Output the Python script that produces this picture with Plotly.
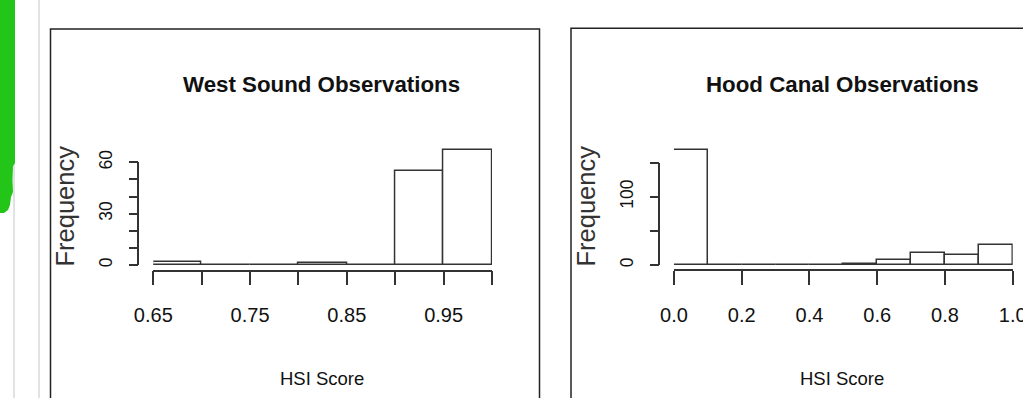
import plotly.graph_objects as go

# ---------------- data ----------------
ws_edges = [0.65, 0.70, 0.75, 0.80, 0.85, 0.90, 0.95, 1.00]
ws_counts = [2, 0, 0, 1, 0, 55, 67]
hc_edges = [0.0, 0.1, 0.2, 0.3, 0.4, 0.5, 0.6, 0.7, 0.8, 0.9, 1.0]
hc_counts = [169, 0, 0, 0, 0, 2, 8, 17, 14, 29]

ws_xticks = [0.65, 0.70, 0.75, 0.80, 0.85, 0.90, 0.95, 1.00]
ws_xlabels = ["0.65", "", "0.75", "", "0.85", "", "0.95", ""]
hc_xticks = [0.0, 0.2, 0.4, 0.6, 0.8, 1.0]
hc_xlabels = ["0.0", "0.2", "0.4", "0.6", "0.8", "1.0"]
ws_yticks = [0, 10, 20, 30, 40, 50, 60]
ws_ylabels = ["0", "", "", "30", "", "", "60"]
hc_yticks = [0, 50, 100, 150]
hc_ylabels = ["0", "", "100", ""]

titles = ["West Sound Observations", "Hood Canal Observations"]
xtitle = "HSI Score"
ytitle = "Frequency"

# ---------------- geometry helpers ----------------
W, H = 1023, 398
def px(x):
    return x / W
def py(y):
    return 1 - y / H

FONT = "Liberation Sans, Arial, Helvetica, sans-serif"
INK = "#111111"
LINE = "#333333"

def centers(edges):
    return [(a + b) / 2 for a, b in zip(edges[:-1], edges[1:])]
def widths(edges):
    return [b - a for a, b in zip(edges[:-1], edges[1:])]

fig = go.Figure()

bar_style = dict(marker=dict(color="white", line=dict(color=LINE, width=1.5)), showlegend=False, hoverinfo="skip")
fig.add_trace(go.Bar(x=centers(ws_edges), y=ws_counts, width=widths(ws_edges), xaxis="x", yaxis="y", **bar_style))
fig.add_trace(go.Bar(x=centers(hc_edges), y=hc_counts, width=widths(hc_edges), xaxis="x2", yaxis="y2", **bar_style))
fig.add_trace(go.Scatter(x=[None], y=[None], xaxis="x", yaxis="y3", showlegend=False, hoverinfo="skip"))
fig.add_trace(go.Scatter(x=[None], y=[None], xaxis="x2", yaxis="y4", showlegend=False, hoverinfo="skip"))

base = 265
top = 140
ws_scale = 102.7 / 60
hc_scale = 102.3 / 150

xax_common = dict(showline=True, linecolor=LINE, linewidth=1.5, ticks="outside", ticklen=14,
                  tickcolor=LINE, tickwidth=1.5, showgrid=False, zeroline=False, anchor="free",
                  tickfont=dict(family=FONT, size=20, color=INK), ticklabelstandoff=13,
                  ticklabeloverflow="allow", automargin=False, fixedrange=True)
yax_disp = dict(showline=True, linecolor=LINE, linewidth=1.5, ticks="outside", ticklen=9,
                tickcolor=LINE, tickwidth=1.5, showgrid=False, zeroline=False, anchor="free",
                tickfont=dict(family=FONT, size=17.5, color=INK), tickangle=-90, side="left",
                ticklabelstandoff=10, automargin=False, fixedrange=True)
yax_data = dict(visible=False, showgrid=False, zeroline=False, automargin=False, fixedrange=True)

fig.update_layout(
    width=W, height=H, margin=dict(l=0, r=0, t=0, b=0, pad=0, autoexpand=False),
    paper_bgcolor="white", plot_bgcolor="rgba(0,0,0,0)", bargap=0, showlegend=False,
    xaxis=dict(domain=[px(153.3), px(492)], range=[ws_edges[0], ws_edges[-1]],
               tickvals=ws_xticks, ticktext=ws_xlabels, position=py(270.7), **xax_common),
    yaxis=dict(domain=[py(base), py(top)], range=[0, (base - top) / ws_scale], **yax_data),
    xaxis2=dict(domain=[px(674), px(1012.7)], range=[hc_edges[0], hc_edges[-1]],
                tickvals=hc_xticks, ticktext=hc_xlabels, position=py(270), **xax_common),
    yaxis2=dict(domain=[py(base), py(top)], range=[0, (base - top) / hc_scale], **yax_data),
    yaxis3=dict(domain=[py(base), py(162.3)], range=[0, 60], tickvals=ws_yticks, ticktext=ws_ylabels,
                position=px(138.3), **yax_disp),
    yaxis4=dict(domain=[py(base), py(162.7)], range=[0, 150], tickvals=hc_yticks, ticktext=hc_ylabels,
                position=px(659.3), **yax_disp),
)

# ---------------- text ----------------
ann = []
for t, cx in zip(titles, [321, 842]):
    ann.append(dict(text="<b>%s</b>" % t, x=px(cx), y=py(84), xref="paper", yref="paper",
                    xanchor="center", yanchor="middle", showarrow=False,
                    font=dict(family=FONT, size=22.3, color=INK)))
for cx in [321.7, 842.2]:
    ann.append(dict(text=xtitle, x=px(cx), y=py(378), xref="paper", yref="paper",
                    xanchor="center", yanchor="middle", showarrow=False,
                    font=dict(family=FONT, size=18.5, color=INK)))
for cx in [64, 585]:
    ann.append(dict(text=ytitle, x=px(cx), y=py(206.5), xref="paper", yref="paper",
                    xanchor="center", yanchor="middle", showarrow=False, textangle=-90,
                    font=dict(family=FONT, size=25.5, color="#333333")))
fig.update_layout(annotations=ann)

# ---------------- page decorations ----------------
def path(points):
    s = "M %f %f " % (px(points[0][0]), py(points[0][1]))
    for x, y in points[1:]:
        s += "L %f %f " % (px(x), py(y))
    return s + "Z"

green = [(0, 0), (15, 0), (15, 163), (13, 166), (12.5, 180), (13, 192), (11, 197), (10, 205),
         (8, 210), (4, 213), (0, 213)]
shapes = [
    dict(type="line", xref="paper", yref="paper", x0=px(14), x1=px(14), y0=0, y1=1,
         line=dict(color="#cfcfcf", width=1.2), layer="below"),
    dict(type="line", xref="paper", yref="paper", x0=px(39), x1=px(39), y0=0, y1=1,
         line=dict(color="#cfcfcf", width=1.2), layer="below"),
    dict(type="path", xref="paper", yref="paper", path=path(green),
         fillcolor="#22c518", line=dict(width=0), layer="below"),
    dict(type="rect", xref="paper", yref="paper", x0=px(50.5), x1=px(539.5), y0=py(405), y1=py(29),
         line=dict(color="#222222", width=1.5), fillcolor="rgba(0,0,0,0)", layer="below"),
    dict(type="rect", xref="paper", yref="paper", x0=px(571), x1=px(1040), y0=py(405), y1=py(28.3),
         line=dict(color="#222222", width=1.5), fillcolor="rgba(0,0,0,0)", layer="below"),
]
fig.update_layout(shapes=shapes)

fig.write_html("out.html", config={"displayModeBar": False},
               post_script="document.body.style.margin='0px'; document.body.style.overflow='hidden';")
